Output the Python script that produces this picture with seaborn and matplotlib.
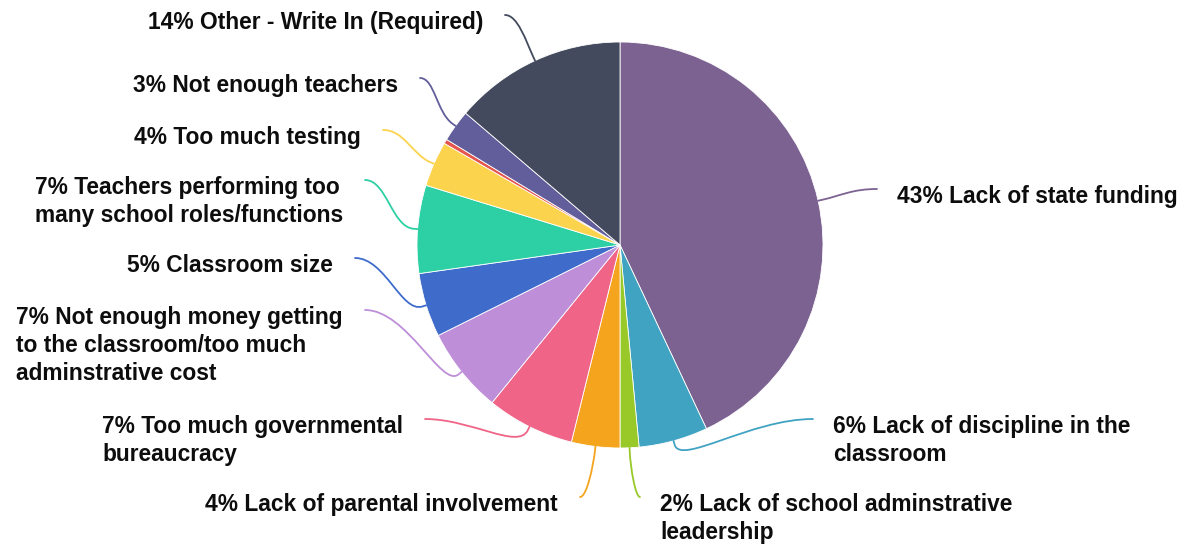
import numpy as np
import matplotlib
matplotlib.use("Agg")
import matplotlib.pyplot as plt
from matplotlib.path import Path
from matplotlib.patches import PathPatch
import seaborn as sns

sns.set_theme(style="white")
plt.rcParams['font.family'] = ['Liberation Sans', 'DejaVu Sans']

# ---- data (clockwise from 12 o'clock) ----
categories = [
    "Lack of state funding",
    "Lack of discipline in the\nclassroom",
    "Lack of school adminstrative\nleadership",
    "Lack of parental involvement",
    "Too much governmental\nbureaucracy",
    "Not enough money getting\nto the classroom/too much\nadminstrative cost",
    "Classroom size",
    "Teachers performing too\nmany school roles/functions",
    "Too much testing",
    "",
    "Not enough teachers",
    "Other - Write In (Required)",
]
values = [43.0, 5.5, 1.5, 3.85, 7.0, 6.8, 5.1, 7.0, 3.6, 0.35, 2.55, 13.75]
pct_labels = ["43%", "6%", "2%", "4%", "7%", "7%", "5%", "7%", "4%", "", "3%", "14%"]
colors = ["#7B6291", "#41A3C2", "#98C928", "#F5A51D", "#F06488", "#BE8FD8",
          "#3F6CCB", "#2DD0A4", "#FCD34C", "#E5554D", "#625E9B", "#444A5D"]

# ---- layout (image pixel coords, y down): connector end point ----
W, H = 1189, 548
cx, cy, R = 620, 245, 203
line_end = [(877, 189), (813, 419), (640, 497), (580, 497), (425, 419), (365, 310),
            (355, 258), (365, 180), (383, 130), None, (420, 78), (505, 15)]

fig = plt.figure(figsize=(W / 100, H / 100), dpi=100)
ax = fig.add_axes([0, 0, 1, 1])

ax.pie(values, colors=colors, startangle=90, counterclock=False,
       center=(cx, H - cy), radius=R,
       wedgeprops=dict(edgecolor="white", linewidth=0.6))
ax.set_xlim(0, W)
ax.set_ylim(0, H)
ax.set_aspect("equal")
ax.axis("off")

total = sum(values)
cum = 0.0
for v, lab, pct, col, end in zip(values, categories, pct_labels, colors, line_end):
    mid = (cum + v / 2) / total * 2 * np.pi
    cum += v
    if end is None:
        continue
    ux, uy = np.sin(mid), np.cos(mid)  # radial unit (y up)
    A = np.array([cx + R * ux, (H - cy) + R * uy])
    C = np.array([end[0], H - end[1]])
    right = C[0] > cx
    d = -1 if right else 1  # horizontal direction from label end toward pie
    B = A + 4 * np.array([ux, uy])
    dist = np.hypot(*(C - B))
    k1 = min(22, 0.35 * dist)
    k2 = 0.45 * abs(C[0] - B[0])
    P1 = B + k1 * np.array([ux, uy])
    P2 = C + np.array([d * k2, 0])
    path = Path([A, B, P1, P2, C],
                [Path.MOVETO, Path.LINETO, Path.CURVE4, Path.CURVE4, Path.CURVE4])
    ax.add_patch(PathPatch(path, facecolor="none", edgecolor=col, lw=1.3,
                           capstyle="round", joinstyle="round"))
    tx = C[0] + (20 if right else -22)
    ax.text(tx, C[1] + 4, f"{pct} {lab}", ha="left" if right else "right",
            va="top", multialignment="left", fontsize=16.4, fontweight="bold",
            color="#0d0d0d", linespacing=1.29)

fig.savefig("out.png", dpi=100)
